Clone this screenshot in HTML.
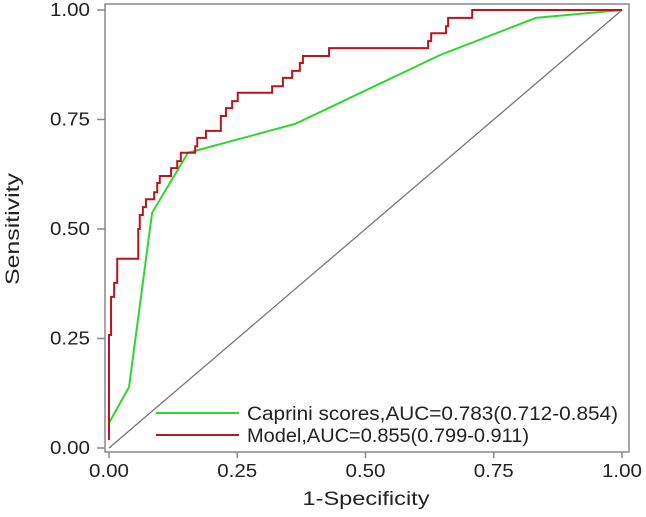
<!DOCTYPE html>
<html><head><meta charset="utf-8"><style>
body{margin:0;background:#fff;}
svg{display:block;font-family:"Liberation Sans",sans-serif;}
</style></head><body>
<svg id="chart" width="646" height="517"></svg>
<script>
const xTicks=[0,0.25,0.5,0.75,1];
const yTicks=[0,0.25,0.5,0.75,1];
const tickLabels=["0.00","0.25","0.50","0.75","1.00"];
const capriniFpr=[0,0.039,0.084,0.154,0.363,0.645,0.832,1];
const capriniTpr=[0.057,0.139,0.537,0.674,0.740,0.897,0.982,1];
const modelStepFpr=[0,0.004,0.010,0.016,0.057,0.060,0.066,0.072,0.088,0.094,0.099,0.121,0.133,0.140,0.168,0.172,0.189,0.218,0.228,0.240,0.251,0.318,0.339,0.357,0.372,0.378,0.429,0.622,0.628,0.657,0.661,0.708];
const modelStepTpr=[0.258,0.345,0.377,0.432,0.5,0.532,0.550,0.568,0.584,0.605,0.621,0.639,0.655,0.674,0.689,0.708,0.724,0.758,0.776,0.792,0.811,0.826,0.845,0.861,0.879,0.895,0.913,0.929,0.947,0.963,0.982,1];
const modelStartTpr=0.018;
const legendLabels=["Caprini scores,AUC=0.783(0.712-0.854)","Model,AUC=0.855(0.799-0.911)"];

const NS="http://www.w3.org/2000/svg";
const svg=document.getElementById('chart');
const X=v=>109+v*513, Y=v=>448-v*438;
function mk(t,a,p){const e=document.createElementNS(NS,t);for(const k in a)e.setAttribute(k,a[k]);(p||svg).appendChild(e);return e;}

const frame=mk('rect',{x:105,y:4,width:524,height:448,fill:'none',stroke:'#888','stroke-width':1.5});



xTicks.forEach((v,i)=>{
  const t=mk('line',{x1:X(v),x2:X(v),y1:452,y2:458,stroke:'#888','stroke-width':1.5});
  
  
  const l=mk('text',{x:X(v),y:477,'text-anchor':'middle','font-size':18,fill:'#222',textLength:40,lengthAdjust:'spacingAndGlyphs'});
  l.textContent=tickLabels[i];
  
  
});
yTicks.forEach((v,i)=>{
  const t=mk('line',{x1:97,x2:105,y1:Y(v),y2:Y(v),stroke:'#888','stroke-width':1.5});
  
  
  const l=mk('text',{x:90,y:Y(v)+6,'text-anchor':'end','font-size':18,fill:'#222',textLength:40,lengthAdjust:'spacingAndGlyphs'});
  l.textContent=tickLabels[i];
  
  
});

const xt=mk('text',{x:366,y:505,'text-anchor':'middle','font-size':19,fill:'#222',textLength:127,lengthAdjust:'spacingAndGlyphs'});
xt.textContent='1-Specificity';


const yt=mk('text',{x:0,y:0,'text-anchor':'middle','font-size':19,fill:'#222',textLength:112,lengthAdjust:'spacingAndGlyphs',transform:'translate(19,229) rotate(-90)'});
yt.textContent='Sensitivity';



const diag=mk('line',{x1:X(0),y1:Y(0),x2:X(1),y2:Y(1),stroke:'#777','stroke-width':1.3});



let gp=capriniFpr.map((f,i)=>X(f)+','+Y(capriniTpr[i])).join(' ');
const g=mk('polyline',{points:gp,fill:'none',stroke:'#2ed62e','stroke-width':2});



let pts=[[X(0),Y(modelStartTpr)]];let cy=modelStartTpr;
modelStepFpr.forEach((f,i)=>{pts.push([X(f),Y(cy)]);cy=modelStepTpr[i];pts.push([X(f),Y(cy)]);});
pts.push([X(1),Y(cy)]);
const r=mk('polyline',{points:pts.map(p=>p.join(',')).join(' '),fill:'none',stroke:'#b8161e','stroke-width':2});



const legColors=['#2ed62e','#a3222a'];
const legLens=[371,282];
legendLabels.forEach((s,i)=>{
  const y=413+i*22;
  const ln=mk('line',{x1:156,x2:239,y1:y,y2:y,stroke:legColors[i],'stroke-width':2});
  
  
  const tx=mk('text',{x:247,y:y+7,'font-size':19,fill:'#222',textLength:legLens[i],lengthAdjust:'spacingAndGlyphs'});
  tx.textContent=s;
  
  
});
</script>
</body></html>
